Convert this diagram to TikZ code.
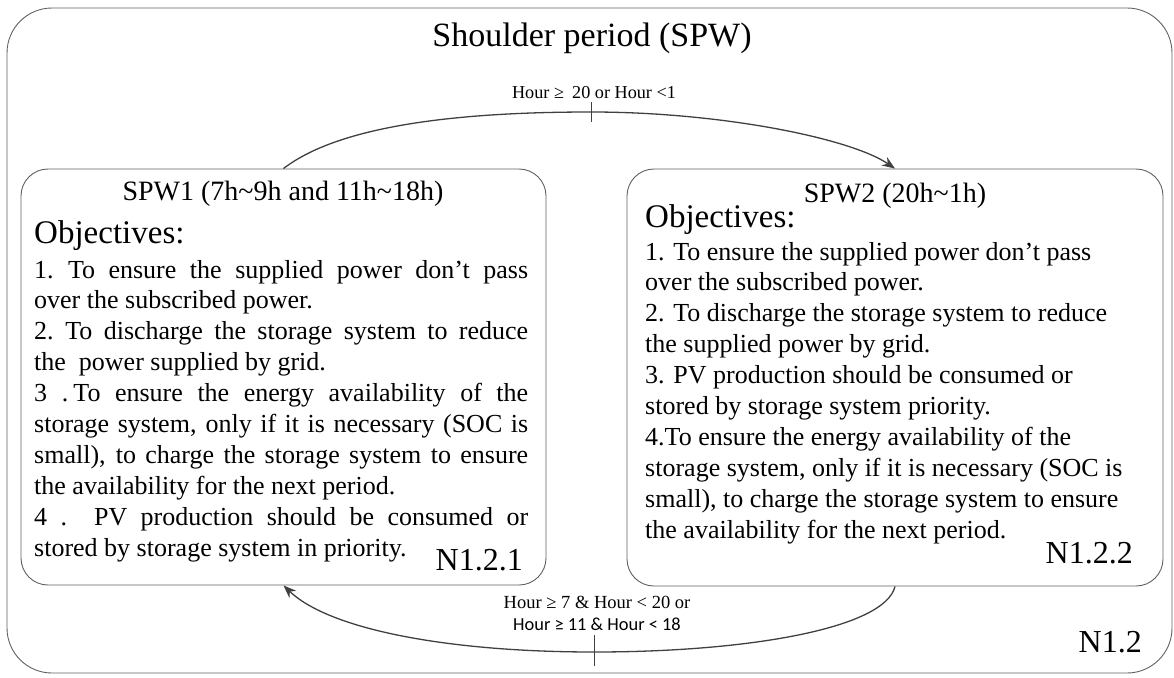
\documentclass[tikz,border=0pt]{standalone}
\usepackage{fontspec}
\setmainfont{Liberation Serif}
\newfontfamily\carlitofont{Carlito}
\usetikzlibrary{arrows.meta}
\newcommand\myBody{\fontsize{26}{30.9}\selectfont}
\newcommand\jline[1]{\makebox[\linewidth][s]{#1}}
\begin{document}
\begin{tikzpicture}[x=1pt,y=-1pt,
  frame/.style={draw=black!62, line width=0.9pt, inner sep=0pt},
  arr/.style={draw=black!75, line width=1.3pt, -{Stealth[length=13pt,width=10pt]}},
  tickmark/.style={draw=black!75, line width=1pt},
  txt/.style={inner sep=0pt, anchor=base}]
\useasboundingbox (0,0) rectangle (1174,677);
% outer frame
\node[frame, rounded corners=45pt, minimum width=1165pt, minimum height=665pt] (outer) at (589.5,340.5) {};
\node[txt, font=\fontsize{34}{40}\selectfont] (title) at (592,47) {Shoulder period (SPW)};
\node[txt, anchor=base east, font=\fontsize{32}{36}\selectfont] (n12) at (1142,652) {N1.2};
% state boxes
\node[frame, rounded corners=27pt, minimum width=525pt, minimum height=416pt] (L) at (283.5,377) {};
\node[frame, rounded corners=27pt, minimum width=536pt, minimum height=417pt] (R) at (895,377.5) {};
% left box content
\node[txt, font=\fontsize{28}{32}\selectfont] (Ltitle) at (283,200) {SPW1 (7h\textasciitilde 9h and 11h\textasciitilde 18h)};
\node[txt, anchor=base west, font=\fontsize{33}{38}\selectfont] (Lobj) at (34,243) {Objectives:};
\node[txt, anchor=base west] (Ltext) at (34,278) {\parbox[t]{494pt}{\myBody\raggedright
\jline{1.\hspace{0.55em}To ensure the supplied power don’t pass}\\
over the subscribed power.\\
\jline{2.\hspace{0.45em}To discharge the storage system to reduce}\\
the\ \ power supplied by grid.\\
\jline{3 .\hspace{0.2em}To ensure the energy availability of the}\\
\jline{storage system, only if it is necessary (SOC is}\\
\jline{small), to charge the storage system to ensure}\\
the availability for the next period.\\
\jline{4 .\ \ PV production should be consumed or}\\
stored by storage system in priority.}};
\node[txt, anchor=base east, font=\fontsize{32}{36}\selectfont] (n121) at (523,570) {N1.2.1};
% right box content
\node[txt, font=\fontsize{28}{32}\selectfont] (Rtitle) at (895,202) {SPW2 (20h\textasciitilde 1h)};
\node[txt, anchor=base west, font=\fontsize{33}{38}\selectfont] (Robj) at (645,227) {Objectives:};
\node[txt, anchor=base west] (Rtext) at (645,260) {\parbox[t]{510pt}{\myBody\raggedright
1. To ensure the supplied power don’t pass\\
over the subscribed power.\\
2. To discharge the storage system to reduce\\
the supplied power by grid.\\
3. PV production should be consumed or\\
stored by storage system priority.\\
4.To ensure the energy availability of the\\
storage system, only if it is necessary (SOC is\\
small), to charge the storage system to ensure\\
the availability for the next period.}};
\node[txt, anchor=base east, font=\fontsize{32}{36}\selectfont] (n122) at (1133,563) {N1.2.2};
% transitions
\coordinate (t1) at (591,112);
\coordinate (b1) at (594,652);
\draw[arr] (L.north) .. controls (340,125) and (460,112) .. (t1) .. controls (720,112) and (850,138) .. (R.north);
\draw[arr] (R.south) .. controls (885,628) and (750,652) .. (b1) .. controls (450,652) and (330,630) .. (L.south);
\draw[tickmark] ([yshift=10pt]t1) -- ([yshift=-10pt]t1);
\draw[tickmark] ([yshift=17pt]b1) -- ([yshift=-14pt]b1);
\node[txt, font=\fontsize{18.2}{20}\selectfont] (lab1) at (594,98) {Hour ≥\hspace{0.45em}20 or Hour <1};
\node[txt, font=\fontsize{18.5}{20}\selectfont] (lab2) at (597,608) {Hour ≥ 7 \& Hour < 20 or};
\node[txt, font=\carlitofont\fontsize{18.4}{20}\selectfont] (lab3) at (597,630) {Hour ≥ 11 \& Hour < 18};
\end{tikzpicture}
\end{document}
